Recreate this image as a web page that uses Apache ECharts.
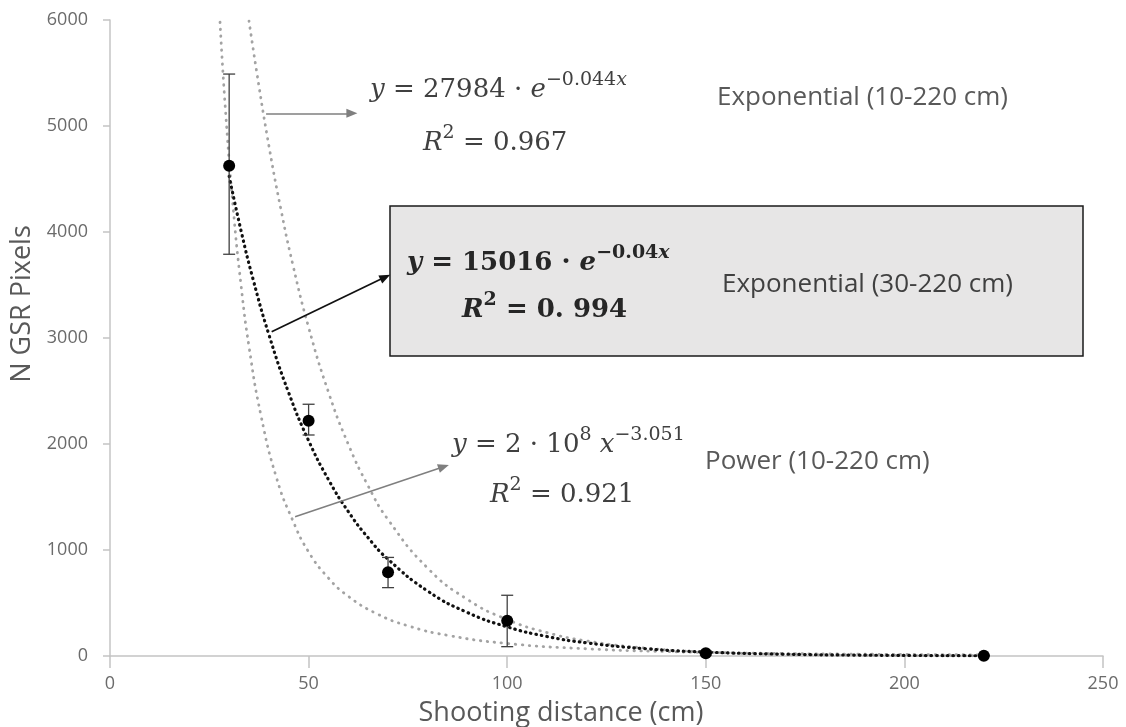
<!DOCTYPE html>
<html>
<head>
<meta charset="utf-8">
<script src="https://cdn.jsdelivr.net/npm/echarts@6/dist/echarts.min.js"></script>
<style>
  html, body { margin: 0; background: #fff; }
  #chart { width: 1126px; height: 727px; }
</style>
</head>
<body>
<div id="chart"></div>
<script>
// measured points (mean N GSR pixels per shooting distance) with error bars
const distances = [30, 50, 70, 100, 150, 220]
const meanPixels = [4625, 2220, 790, 333, 25, 3]
const errLow = [3790, 2085, 645, 88, 10, 0]
const errHigh = [5490, 2375, 930, 573, 45, 8]

// trend lines
const expAllX = [35, 37, 40, 43, 46, 50, 55, 60, 65, 70, 80, 90, 100, 110, 120, 135, 150, 170, 190, 220]
const expAllY = [5990, 5494, 4814, 4219, 3697, 3101, 2489, 1997, 1603, 1287, 828, 533, 344, 221, 142, 74, 38, 16, 7, 2]

const expFarX = [30, 33, 36, 40, 45, 50, 55, 60, 65, 70, 80, 90, 100, 110, 120, 135, 150, 170, 190, 220]
const expFarY = [4525, 4011, 3557, 3032, 2482, 2032, 1664, 1362, 1115, 913, 612, 410, 275, 184, 124, 68, 37, 17, 8, 2]

const powerX = [27.7, 29, 31, 33, 35, 38, 42, 46, 50, 55, 60, 67, 75, 85, 100, 120, 140, 160, 190, 220]
const powerY = [5980, 5187, 4231, 3495, 2918, 2271, 1671, 1280, 982, 735, 563, 402, 285, 195, 118, 68, 42, 28, 17, 11]

// annotation arrows in data units [from, to]
const arrowExpAll = [[39.3, 5120], [60.9, 5120]]
const arrowExpFar = [[40.7, 3059], [69.3, 3575]]
const arrowPower = [[46.6, 1314], [84, 1786]]

const xTicks = { min: 0, max: 250, interval: 50 }
const yTicks = { min: 0, max: 6000, interval: 1000 }

const zip = (xs, ys) => xs.map((x, i) => [x, ys[i]])

const chart = echarts.init(document.getElementById('chart'))

const dotted = (color, width, gap) => ({
  color: color,
  width: width,
  type: [0.5, gap],
  cap: 'round'
})

const arrow = (pts, color, width) => ({
  silent: true,
  symbol: ['none', 'triangle'],
  symbolSize: [9, 11],
  label: { show: false },
  lineStyle: { color: color, width: width, type: 'solid' },
  emphasis: { disabled: true },
  data: [[{ coord: pts[0] }, { coord: pts[1] }]]
})

const mathFont = 'DejaVu Serif'
const labelFont = 'Open Sans'

const mathRich = (size, weight, color) => ({
  i: { fontStyle: 'italic', fontSize: size, fontWeight: weight, fontFamily: mathFont, fill: color, lineHeight: size + 12 },
  n: { fontSize: size, fontWeight: weight, fontFamily: mathFont, fill: color, lineHeight: size + 12 },
  s: { fontSize: Math.round(size * 0.72), fontWeight: weight, fontFamily: mathFont, fill: color, verticalAlign: 'top' },
  si: { fontSize: Math.round(size * 0.72), fontStyle: 'italic', fontWeight: weight, fontFamily: mathFont, fill: color, verticalAlign: 'top' }
})

const mathText = (left, y, text, weight, color) => ({
  type: 'text',
  x: left,
  y: y,
  z: 10,
  style: {
    text: text,
    align: 'left',
    verticalAlign: 'middle',
    rich: mathRich(26, weight, color)
  }
})

const plainText = (left, y, text, color, size, align) => ({
  type: 'text',
  x: left,
  y: y,
  z: 10,
  style: {
    text: text,
    align: align || 'left',
    verticalAlign: 'middle',
    font: size + 'px "' + labelFont + '"',
    fill: color
  }
})

const yTitle = plainText(22, 304, 'N GSR Pixels', '#595959', 27, 'center')
yTitle.rotation = Math.PI / 2

chart.setOption({
  animation: false,
  backgroundColor: '#fff',
  grid: { left: 110, right: 23, top: 20, bottom: 71, outerBoundsMode: 'none' },
  xAxis: {
    type: 'value',
    min: xTicks.min,
    max: xTicks.max,
    interval: xTicks.interval,
    axisLine: { lineStyle: { color: '#c4c4c4', width: 1.5 } },
    axisTick: { length: 12, lineStyle: { color: '#c4c4c4', width: 1.5 } },
    axisLabel: { margin: 19, fontFamily: labelFont, fontSize: 18, color: '#6b6b6b' },
    splitLine: { show: false }
  },
  yAxis: {
    type: 'value',
    min: yTicks.min,
    max: yTicks.max,
    interval: yTicks.interval,
    axisLine: { show: true, lineStyle: { color: '#c4c4c4', width: 1.5 } },
    axisTick: { show: true, length: 7, lineStyle: { color: '#c4c4c4', width: 1.5 } },
    axisLabel: { margin: 22, fontFamily: labelFont, fontSize: 18, color: '#6b6b6b', formatter: v => String(v) },
    splitLine: { show: false }
  },
  graphic: [
    {
      type: 'rect',
      shape: { x: 390, y: 206, width: 693, height: 150 },
      z: 5,
      style: { fill: '#e7e6e6', stroke: '#1a1a1a', lineWidth: 1.5 }
    },
    yTitle,
    plainText(561, 713, 'Shooting distance (cm)', '#595959', 27, 'center'),
    mathText(370, 90, '{i|y}{n| = 27984 · }{i|e}{s|−0.044}{si|x}', 'normal', '#404040'),
    mathText(423, 143, '{i|R}{s|2}{n| = 0.967}', 'normal', '#404040'),
    plainText(717, 98, 'Exponential (10-220 cm)', '#595959', 26),
    mathText(407, 263, '{i|y}{n| = 15016 · }{i|e}{s|−0.04}{si|x}', 'bold', '#262626'),
    mathText(462, 310, '{i|R}{s|2}{n| = 0. 994}', 'bold', '#262626'),
    plainText(722, 285, 'Exponential (30-220 cm)', '#404040', 26),
    mathText(452, 445, '{i|y}{n| = 2 · 10}{s|8}{n| }{i|x}{s|−3.051}', 'normal', '#404040'),
    mathText(490, 495, '{i|R}{s|2}{n| = 0.921}', 'normal', '#404040'),
    plainText(705, 462, 'Power (10-220 cm)', '#595959', 26)
  ],
  series: [
    {
      name: 'Power (10-220 cm)',
      type: 'line',
      data: zip(powerX, powerY),
      showSymbol: false,
      smooth: 0.5,
      silent: true,
      lineStyle: dotted('#a3a3a3', 2.8, 6.5),
      markLine: arrow(arrowPower, '#7f7f7f', 1.5)
    },
    {
      name: 'Exponential (10-220 cm)',
      type: 'line',
      data: zip(expAllX, expAllY),
      showSymbol: false,
      smooth: 0.5,
      silent: true,
      lineStyle: dotted('#a3a3a3', 2.8, 6.5),
      markLine: arrow(arrowExpAll, '#7f7f7f', 1.5)
    },
    {
      name: 'Exponential (30-220 cm)',
      type: 'line',
      data: zip(expFarX, expFarY),
      showSymbol: false,
      smooth: 0.5,
      silent: true,
      z: 3,
      lineStyle: dotted('#111', 3.2, 5),
      markLine: arrow(arrowExpFar, '#111', 1.8)
    },
    {
      name: 'error',
      type: 'custom',
      data: distances.map((d, i) => [d, errLow[i], errHigh[i]]),
      encode: { x: 0, y: [1, 2] },
      z: 4,
      silent: true,
      renderItem: (params, api) => {
        const x = api.value(0)
        const lo = api.coord([x, api.value(1)])
        const hi = api.coord([x, api.value(2)])
        const w = 6
        const st = { stroke: '#404040', lineWidth: 1.3 }
        return {
          type: 'group',
          children: [
            { type: 'line', shape: { x1: lo[0], y1: lo[1], x2: hi[0], y2: hi[1] }, style: st },
            { type: 'line', shape: { x1: hi[0] - w, y1: hi[1], x2: hi[0] + w, y2: hi[1] }, style: st },
            { type: 'line', shape: { x1: lo[0] - w, y1: lo[1], x2: lo[0] + w, y2: lo[1] }, style: st }
          ]
        }
      }
    },
    {
      name: 'N GSR Pixels',
      type: 'scatter',
      data: zip(distances, meanPixels),
      symbol: 'circle',
      symbolSize: 12,
      z: 5,
      itemStyle: { color: '#000', opacity: 1 }
    }
  ]
})
</script>
</body>
</html>
